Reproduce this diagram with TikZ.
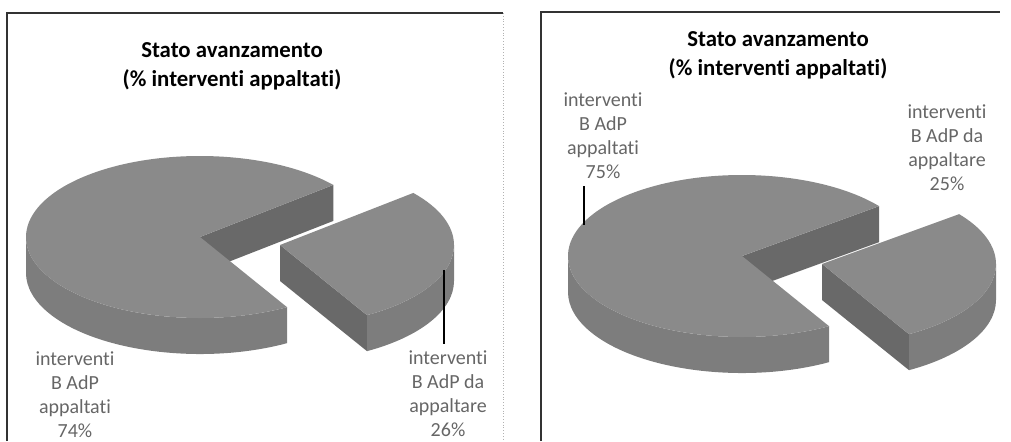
\documentclass[tikz,border=0pt]{standalone}
\usepackage{fontspec}
\setmainfont{Carlito}[Ligatures=NoCommon]
\usepackage{tikz}
\usetikzlibrary{calc}

\definecolor{pietop}{gray}{0.54}
\definecolor{pieside}{gray}{0.49}
\definecolor{pieface}{gray}{0.41}
\definecolor{labtext}{gray}{0.40}

\begin{document}
\begin{tikzpicture}[x=0.5pt,y=0.5pt,
	title/.style={font=\fontsize{11.4}{14.5}\selectfont\bfseries,align=center},
	lab/.style={font=\fontsize{10}{12}\selectfont,text=labtext,align=center},
	frame/.style={draw=black!80,line width=0.7pt},
	leader/.style={draw=black,line width=0.6pt}]
		\useasboundingbox (0,0) rectangle (1011,441);
		
		%frames
		\draw[frame] (7,0) -- (7,428) -- (503,428);
		\draw[gray!60,densely dotted] (503,428) -- (503,0);
		\draw[frame] (541,0) -- (541,429) -- (1000,429);
		
		%pies: big slice, then exploded small slice
		\foreach \cx/\cy/\a/\b in {200/204/-60/40, 742/185/-60/38}{
			\pgfmathsetmacro{\e}{360+\a}
			\coordinate (C) at (\cx,\cy);
			\coordinate (S) at (\cx+80,\cy-8);
			%big slice
			\fill[pieside] ($(C)+(180:174 and 81)$) arc[start angle=180,end angle=\e,x radius=174,y radius=81] -- ++(0,-36) arc[start angle=\e,end angle=180,x radius=174,y radius=81] -- cycle;
			\fill[pieface] (C) -- ($(C)+(\b:174 and 81)$) -- ++(0,-36) -- ($(C)+(0,-36)$) -- cycle;
			\fill[pietop] (C) -- ($(C)+(\b:174 and 81)$) arc[start angle=\b,end angle=\e,x radius=174,y radius=81] -- cycle;
			%small slice
			\fill[pieface] (S) -- ($(S)+(\a:174 and 81)$) -- ++(0,-36) -- ($(S)+(0,-36)$) -- cycle;
			\fill[pieside] ($(S)+(\a:174 and 81)$) arc[start angle=\a,end angle=0,x radius=174,y radius=81] -- ++(0,-36) arc[start angle=0,end angle=\a,x radius=174,y radius=81] -- cycle;
			\fill[pietop] (S) -- ($(S)+(\a:174 and 81)$) arc[start angle=\a,end angle=\b,x radius=174,y radius=81] -- cycle;
		}
		
		%titles
		\node[title] (titL) at (232,375) {Stato avanzamento\\(\% interventi appaltati)};
		\node[title] (titR) at (778,386) {Stato avanzamento\\(\% interventi appaltati)};
		
		%labels
		\node[lab] (labLa) at (75,46) {interventi\\B AdP\\appaltati\\74\%};
		\node[lab] (labLb) at (448,47) {interventi\\B AdP da\\appaltare\\26\%};
		\node[lab] (labRa) at (603,305) {interventi\\B AdP\\appaltati\\75\%};
		\node[lab] (labRb) at (947,293) {interventi\\B AdP da\\appaltare\\25\%};
		
		%leaders
		\coordinate (tipLb) at (444,171);
		\coordinate (tipRa) at (584,216);
		\draw[leader] (labLb.north -| tipLb) -- (tipLb);
		\draw[leader] (labRa.south -| tipRa) -- (tipRa);
		
\end{tikzpicture}
\end{document}
